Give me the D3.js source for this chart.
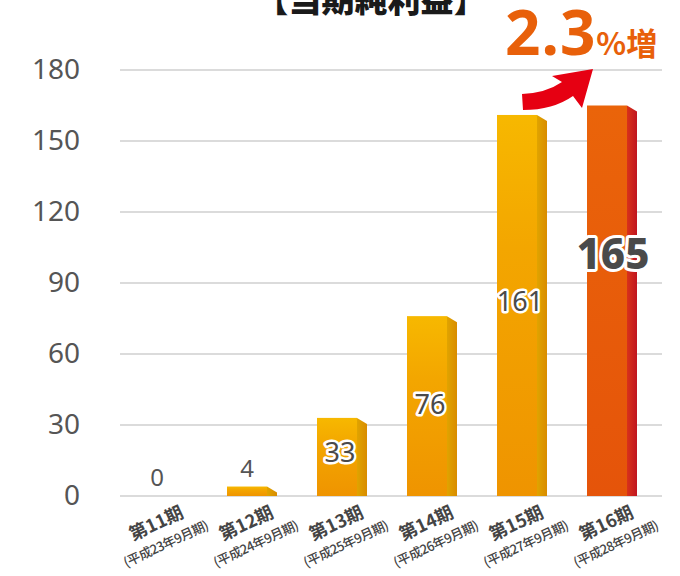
<!DOCTYPE html>
<html><head><meta charset="utf-8">
<script src="https://cdn.jsdelivr.net/npm/d3@7"></script>
<style>
html,body{margin:0;padding:0;background:#fff;}
svg{display:block;font-family:"Noto Sans CJK JP","Noto Sans",sans-serif;}
</style></head>
<body>
<svg id="chart" width="680" height="576"></svg>
<script>
const periods = ["第11期","第12期","第13期","第14期","第15期","第16期"];
const subLabels = ["(平成23年9月期)","(平成24年9月期)","(平成25年9月期)","(平成26年9月期)","(平成27年9月期)","(平成28年9月期)"];
const values = [0, 4, 33, 76, 161, 165];
const yTicks = [0, 30, 60, 90, 120, 150, 180];
const title = "【当期純利益】";
const growthValue = "2.3";
const growthUnit = "%増";

const svg = d3.select("#chart");
const defs = svg.append("defs");

const x = d3.scaleBand().domain(periods).range([117, 657]).padding(0);
const y = d3.scaleLinear().domain([0, 180]).range([496, 70]);
const frontW = 40, sideW = 10, sideDrop = 6;

function grad(id, stops, horiz) {
  const g = defs.append("linearGradient").attr("id", id)
    .attr("x1", 0).attr("y1", 0).attr("x2", horiz ? 1 : 0).attr("y2", horiz ? 0 : 1);
  stops.forEach(s => g.append("stop").attr("offset", s[0]).attr("stop-color", s[1]));
}
grad("gFront", [[0, "#f7b800"], [0.35, "#f3a600"], [1, "#ef9400"]]);
grad("gSide", [[0, "#e0a400"], [1, "#d98c00"]], true);
grad("gFrontR", [[0, "#ea640a"], [1, "#e5540a"]]);
grad("gSideR", [[0, "#d8321a"], [1, "#c01520"]], true);

// gridlines
svg.append("g").selectAll("line").data(yTicks).join("line")
  .attr("x1", 120).attr("x2", 662)
  .attr("y1", d => y(d)).attr("y2", d => y(d))
  .attr("stroke", "#cfcfcf").attr("stroke-width", 1.5);

// y axis labels
const yAxis = svg.append("g").attr("transform", "translate(120,0)")
  .call(d3.axisLeft(y).tickValues(yTicks).tickSize(0).tickPadding(40));
yAxis.select(".domain").remove();
yAxis.selectAll("text").attr("font-size", 28).attr("fill", "#555")
  .attr("font-family", "'Noto Sans','Noto Sans CJK JP',sans-serif");

// bars
const bars = svg.append("g").selectAll("g").data(values.map((v, i) => ({v, p: periods[i], i}))).join("g");
bars.filter(d => d.v > 0).append("path")
  .attr("d", d => {
    const x0 = x(d.p) + 20 + frontW, yt = y(d.v), yb = y(0);
    return `M${x0},${yt} L${x0 + sideW},${yt + sideDrop} L${x0 + sideW},${yb} L${x0},${yb} Z`;
  })
  .attr("fill", d => d.i === 5 ? "url(#gSideR)" : "url(#gSide)");
bars.filter(d => d.v > 0).append("rect")
  .attr("x", d => x(d.p) + 20).attr("width", frontW)
  .attr("y", d => y(d.v)).attr("height", d => y(0) - y(d.v))
  .attr("fill", d => d.i === 5 ? "url(#gFrontR)" : "url(#gFront)");

// value labels
const cx = d => x(d.p) + 20 + frontW / 2;
bars.each(function(d) {
  const g = d3.select(this);
  const t = g.append("text").attr("text-anchor", "middle").text(d.v);
  if (d.v < 10) {
    t.attr("x", cx(d)).attr("y", y(d.v) - 10)
      .attr("font-size", 24).attr("fill", "#555");
  } else if (d.i === 5) {
    t.attr("x", cx(d) + 6).attr("y", y(90) - 14)
      .attr("font-size", 42).attr("font-weight", 800).attr("fill", "#4a4a4a")
      .attr("stroke", "#fff").attr("stroke-width", 6).attr("stroke-linejoin", "round")
      .attr("paint-order", "stroke");
  } else {
    const ly = d.i === 2 ? 462 : d.i === 3 ? 414 : 311;
    t.attr("x", cx(d) + 3).attr("y", ly)
      .attr("font-size", 27).attr("fill", "#4a4a4a")
      .attr("stroke", "#fff").attr("stroke-width", 5).attr("stroke-linejoin", "round")
      .attr("paint-order", "stroke");
  }
  t.attr("font-family", "'Noto Sans','Noto Sans CJK JP',sans-serif");
});

// x labels: each glyph placed along a -25° baseline and rotated
const ang = 25 * Math.PI / 180, ux = Math.cos(ang), uy = -Math.sin(ang);
const nx = Math.sin(ang), ny = Math.cos(ang);
const measurer = svg.append("text").attr("x", -1000).attr("y", -1000);
function charWidths(str, size, weight, spacing) {
  measurer.attr("font-size", size).attr("font-weight", weight);
  return Array.from(str).map(ch => {
    measurer.text(ch);
    let w = 0;
    try { w = measurer.node().getComputedTextLength(); } catch (e) { w = 0; }
    if (!w) w = /[0-9]/.test(ch) ? size * 0.55 : /[()]/.test(ch) ? size * 0.33 : size;
    return w + spacing;
  });
}
function slopedText(g, str, cxp, cyp, size, weight, spacing) {
  const ws = charWidths(str, size, weight, spacing);
  const total = d3.sum(ws);
  let off = -total / 2;
  const xs = [], ys = [];
  ws.forEach(w => { xs.push((cxp + off * ux).toFixed(2)); ys.push((cyp + off * uy).toFixed(2)); off += w; });
  g.append("text").attr("font-size", size).attr("font-weight", weight).attr("fill", "#444")
    .attr("x", xs.join(" ")).attr("y", ys.join(" ")).attr("rotate", -25).text(str);
}
const xl = svg.append("g");
periods.forEach((p, i) => {
  const c1x = x(p) + 42, c1y = 529;
  slopedText(xl, p, c1x, c1y, 18, 700, 0);
  slopedText(xl, subLabels[i], c1x + 21 * nx, c1y + 21 * ny, 13, 500, -0.5);
});
measurer.remove();

// title (cropped at top)
svg.append("text").attr("x", 371).attr("y", 12).attr("text-anchor", "middle")
  .attr("font-size", 33).attr("font-weight", 900).attr("fill", "#1a1a1a").text(title);

// growth annotation
const gt = svg.append("text").attr("x", 505).attr("y", 55).attr("fill", "#e8600a").attr("font-weight", 700)
  .attr("font-family", "'Noto Sans','Noto Sans CJK JP',sans-serif");
gt.append("tspan").attr("font-size", 62).attr("letter-spacing", 1).text(growthValue);
gt.append("tspan").attr("font-size", 31).attr("dx", 0).attr("font-family", "'Noto Sans CJK JP',sans-serif").text(growthUnit);

// arrow
svg.append("path")
  .attr("d", "M522,94 Q546,93 562,82 L552,76 L593,69 L582,108 L573,96 Q553,110 523,110 Z")
  .attr("fill", "#e60012");
</script>
</body></html>
